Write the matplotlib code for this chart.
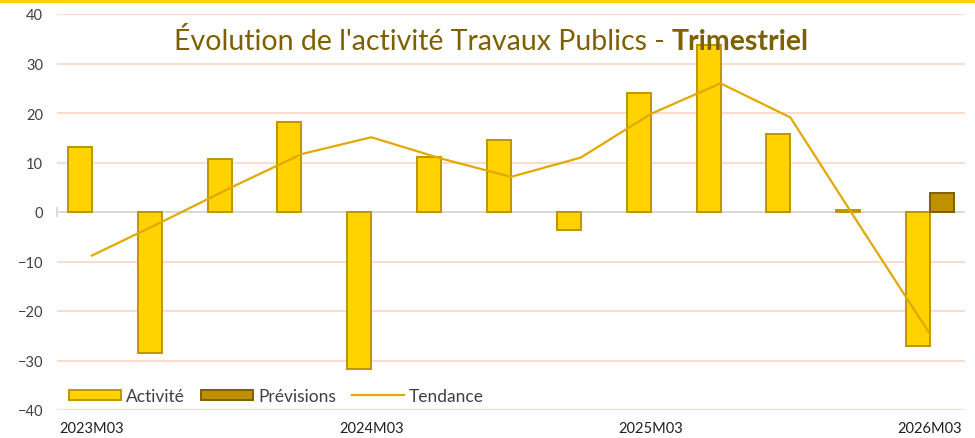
import numpy as np
import matplotlib
matplotlib.use("Agg")
import matplotlib.pyplot as plt
from matplotlib.patches import Patch, Rectangle
from matplotlib.lines import Line2D

# Quarterly series
quarters = ["2023M03", "2023M06", "2023M09", "2023M12",
            "2024M03", "2024M06", "2024M09", "2024M12",
            "2025M03", "2025M06", "2025M09", "2025M12",
            "2026M03"]
activite = [13.2, -28.4, 10.8, 18.2, -31.7, 11.1, 14.5, -3.6,
            24.0, 33.8, 15.7, 0.5, -27.0]
previsions = [np.nan] * 12 + [3.8]
tendance = [-8.8, -2.0, 5.0, 11.7, 15.1, 10.8, 7.1, 11.0,
            19.8, 26.0, 19.1, -2.9, -24.7]
shown_labels = ["2023M03", "2024M03", "2025M03", "2026M03"]

COL_ACT = "#FFD200"
COL_ACT_EDGE = "#BF9600"
COL_PREV = "#BF9000"
COL_PREV_EDGE = "#7F6000"
COL_TREND = "#E3A800"
COL_GRID = "#F9D7C3"
COL_TITLE = "#7F6000"
COL_TEXT = "#404040"

plt.rcParams["font.family"] = ["Lato", "DejaVu Sans"]

fig = plt.figure(figsize=(9.75, 4.39), dpi=100)
ax = fig.add_axes([57 / 975, 28 / 439, 908 / 975, 396 / 439])

x = np.arange(len(quarters))
w = 0.344
ax.bar(x - w / 2, activite, width=w, color=COL_ACT, edgecolor=COL_ACT_EDGE,
       linewidth=1.4, zorder=3)
ax.bar(x + w / 2, previsions, width=w, color=COL_PREV, edgecolor=COL_PREV_EDGE,
       linewidth=1.4, zorder=3)
ax.plot(x, tendance, color=COL_TREND, linewidth=1.6, zorder=4)

ax.set_xlim(-0.5, len(quarters) - 0.5)
ax.set_ylim(-40, 40)
ax.set_yticks(np.arange(-40, 41, 10))
ax.yaxis.grid(True, color=COL_GRID, linewidth=1.2, zorder=0)
ax.axhline(0, color="#D9D9D9", linewidth=1.4, zorder=2)
# small tick at the left end of the category axis
ax.plot([-0.5, -0.5], [-0.9, 0.9], color="#D9D9D9", linewidth=1.4,
        clip_on=False, zorder=2)

for s in ax.spines.values():
    s.set_visible(False)
ax.tick_params(axis="y", length=0, pad=10, labelsize=10.5, labelcolor=COL_TEXT)
ax.tick_params(axis="x", length=0, pad=8, labelsize=10.5, labelcolor="#202020")
ax.set_xticks([quarters.index(q) for q in shown_labels])
ax.set_xticklabels(shown_labels)

handles = [
    Patch(facecolor=COL_ACT, edgecolor=COL_ACT_EDGE, linewidth=1.4),
    Patch(facecolor=COL_PREV, edgecolor=COL_PREV_EDGE, linewidth=1.4),
    Line2D([], [], color=COL_TREND, linewidth=1.6),
]
leg = ax.legend(handles, ["Activité", "Prévisions", "Tendance"], ncol=3,
                loc="lower left", bbox_to_anchor=(0.0, -0.015), frameon=False,
                fontsize=12.5, handlelength=3.0, handleheight=0.5,
                handletextpad=0.3, columnspacing=0.9, borderaxespad=0.3)
for t in leg.get_texts():
    t.set_color(COL_TEXT)

# Title with a bold suffix, centred on the figure
fig.canvas.draw()
renderer = fig.canvas.get_renderer()
t1 = fig.text(0, 0.905, "Évolution de l'activité Travaux Publics - ",
              fontsize=20.5, color=COL_TITLE, fontweight="normal",
              ha="left", va="center")
t2 = fig.text(0, 0.905, "Trimestriel", fontsize=20.5, color=COL_TITLE,
              fontweight="bold", ha="left", va="center")
w1 = t1.get_window_extent(renderer).width
w2 = t2.get_window_extent(renderer).width
x0 = (491 - (w1 + w2) / 2) / 975
t1.set_x(x0)
t2.set_x(x0 + w1 / 975)

# yellow band along the top edge
fig.add_artist(Rectangle((0, 1 - 4 / 439), 1, 4 / 439, transform=fig.transFigure,
                         facecolor="#FFD200", edgecolor="none"))

fig.savefig("out.png", dpi=100)
